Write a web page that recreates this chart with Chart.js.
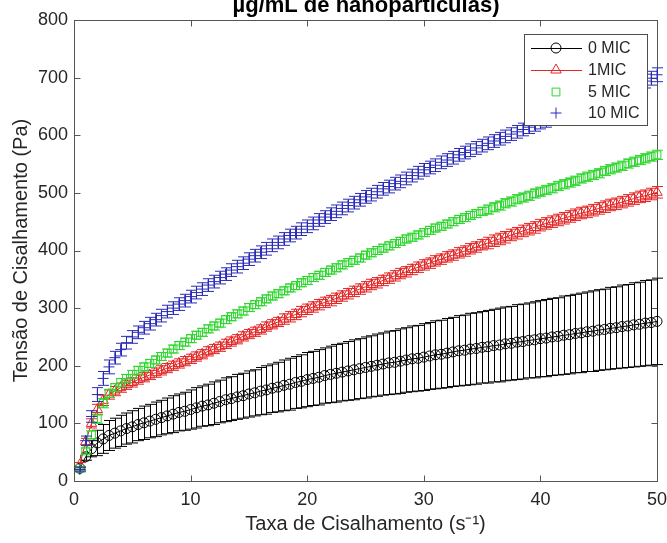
<!DOCTYPE html>
<html>
<head>
<meta charset="utf-8">
<script src="https://cdn.jsdelivr.net/npm/chart.js@4.4.0/dist/chart.umd.min.js"></script>
<style>
  html, body { margin: 0; padding: 0; background: #fff; }
</style>
</head>
<body>
<canvas id="chart" width="667" height="543"></canvas>
<script>
// taxa de cisalhamento (1/s)
const shearRate = [
  0.5, 1, 1.5, 2, 2.5, 3, 3.5, 4, 4.5, 5,
  5.5, 6, 6.5, 7, 7.5, 8, 8.5, 9, 9.5, 10,
  10.5, 11, 11.5, 12, 12.5, 13, 13.5, 14, 14.5, 15,
  15.5, 16, 16.5, 17, 17.5, 18, 18.5, 19, 19.5, 20,
  20.5, 21, 21.5, 22, 22.5, 23, 23.5, 24, 24.5, 25,
  25.5, 26, 26.5, 27, 27.5, 28, 28.5, 29, 29.5, 30,
  30.5, 31, 31.5, 32, 32.5, 33, 33.5, 34, 34.5, 35,
  35.5, 36, 36.5, 37, 37.5, 38, 38.5, 39, 39.5, 40,
  40.5, 41, 41.5, 42, 42.5, 43, 43.5, 44, 44.5, 45,
  45.5, 46, 46.5, 47, 47.5, 48, 48.5, 49, 49.5, 50
];

// tensao (Pa), media de cada grupo
const mic0 = [
  22, 42, 56, 66, 73, 79, 83, 87, 91, 94,
  98, 101, 104, 107, 110, 113, 116, 119, 121, 124,
  127, 130, 132, 135, 138, 141, 143, 146, 148, 151,
  153, 156, 158, 161, 163, 166, 168, 171, 173, 176,
  178, 180, 183, 185, 187, 189, 191, 193, 195, 197,
  199, 201, 203, 205, 206, 208, 210, 212, 213, 215,
  217, 219, 220, 222, 224, 226, 227, 229, 230, 232,
  233, 235, 236, 238, 239, 241, 242, 244, 245, 247,
  248, 250, 251, 253, 254, 256, 257, 259, 260, 262,
  263, 265, 266, 268, 269, 271, 272, 274, 275, 277
];
const mic1 = [
  28, 68, 100, 124, 140, 150, 156, 162, 167, 171,
  176, 180, 184, 188, 192, 196, 200, 204, 208, 212,
  216, 220, 225, 229, 233, 238, 242, 246, 251, 255,
  259, 263, 268, 272, 276, 281, 285, 289, 294, 298,
  302, 306, 310, 313, 317, 321, 325, 329, 333, 337,
  341, 344, 348, 352, 356, 360, 363, 367, 371, 375,
  378, 382, 385, 389, 392, 396, 399, 403, 406, 410,
  413, 417, 420, 423, 427, 430, 434, 437, 440, 444,
  447, 450, 453, 456, 459, 462, 465, 467, 470, 473,
  476, 479, 481, 484, 487, 490, 493, 495, 498, 501
];
const mic5 = [
  22, 52, 80, 108, 135, 152, 162, 171, 178, 185,
  192, 198, 204, 210, 216, 222, 229, 235, 241, 247,
  253, 258, 264, 269, 274, 280, 285, 290, 295, 301,
  306, 311, 316, 321, 325, 330, 335, 339, 344, 348,
  353, 357, 362, 366, 370, 375, 379, 383, 387, 392,
  396, 400, 404, 408, 412, 416, 420, 423, 427, 431,
  435, 439, 442, 446, 450, 454, 457, 461, 464, 468,
  471, 475, 478, 482, 485, 489, 492, 495, 499, 502,
  505, 508, 512, 515, 518, 521, 525, 528, 531, 534,
  538, 541, 544, 547, 551, 554, 557, 560, 563, 566
];
const mic10 = [
  20, 70, 112, 150, 178, 198, 214, 228, 240, 250,
  258, 266, 273, 280, 287, 294, 300, 307, 313, 320,
  327, 333, 340, 346, 353, 359, 366, 372, 378, 385,
  391, 397, 403, 409, 414, 420, 426, 431, 437, 442,
  447, 453, 458, 463, 468, 473, 478, 483, 488, 493,
  497, 502, 507, 511, 516, 520, 525, 530, 535, 540,
  544, 548, 553, 557, 561, 566, 570, 574, 578, 582,
  586, 590, 594, 598, 602, 606, 610, 614, 618, 622,
  626, 630, 634, 638, 642, 646, 649, 653, 657, 661,
  664, 668, 672, 676, 679, 683, 688, 694, 699, 705
];

// desvio padrao
const err0 = [
  3, 6, 14, 22, 25, 26, 26, 27, 27, 28,
  28, 29, 29, 30, 30, 31, 32, 32, 33, 34,
  35, 35, 36, 37, 37, 38, 38, 39, 39, 40,
  40, 41, 42, 42, 43, 44, 45, 45, 46, 47,
  47, 48, 48, 49, 50, 50, 51, 52, 52, 53,
  53, 54, 54, 55, 55, 56, 56, 57, 57, 58,
  58, 59, 59, 60, 60, 61, 61, 62, 62, 62,
  63, 63, 64, 64, 64, 65, 65, 65, 66, 66,
  67, 67, 67, 68, 68, 68, 69, 69, 70, 70,
  70, 71, 71, 72, 72, 73, 73, 74, 74, 75
];
const err1 = [
  4, 6, 8, 9, 9, 8, 8, 8, 8, 8,
  8, 8, 8, 8, 8, 8, 8, 8, 8, 8,
  8, 8, 8, 8, 8, 8, 8, 8, 8, 8,
  8, 8, 8, 8, 8, 9, 9, 9, 9, 9,
  9, 9, 9, 9, 9, 9, 9, 9, 9, 9,
  9, 9, 9, 9, 9, 9, 9, 9, 9, 9,
  9, 9, 9, 9, 9, 9, 9, 9, 9, 9,
  10, 10, 10, 10, 10, 10, 10, 10, 10, 10,
  10, 10, 10, 10, 10, 10, 10, 10, 10, 10,
  10, 10, 10, 10, 10, 10, 10, 10, 10, 10
];
const err5 = [
  3, 5, 7, 8, 8, 7, 7, 7, 7, 7,
  7, 7, 7, 7, 7, 7, 7, 7, 7, 7,
  7, 7, 7, 7, 7, 7, 7, 7, 7, 7,
  7, 7, 7, 7, 7, 7, 7, 7, 7, 7,
  7, 7, 7, 7, 7, 7, 7, 7, 7, 7,
  7, 7, 7, 7, 7, 7, 7, 7, 7, 7,
  7, 7, 7, 7, 7, 7, 7, 7, 7, 7,
  8, 8, 8, 8, 8, 8, 8, 8, 8, 8,
  8, 8, 8, 8, 8, 8, 8, 8, 8, 8,
  8, 8, 8, 8, 8, 8, 8, 8, 8, 8
];
const err10 = [
  4, 8, 10, 12, 12, 12, 11, 11, 11, 11,
  11, 11, 11, 11, 11, 11, 11, 11, 11, 11,
  11, 11, 11, 11, 11, 11, 11, 11, 11, 11,
  11, 11, 11, 11, 11, 11, 11, 11, 11, 11,
  11, 11, 11, 11, 11, 11, 11, 11, 11, 11,
  11, 11, 11, 11, 11, 11, 11, 11, 11, 11,
  11, 11, 11, 11, 11, 11, 11, 11, 11, 11,
  11, 11, 11, 11, 11, 11, 11, 11, 11, 11,
  12, 12, 12, 12, 12, 12, 12, 12, 12, 12,
  12, 12, 12, 12, 12, 12, 12, 12, 12, 12
];

const seriesNames = ["0 MIC", "1MIC", "5 MIC", "10 MIC"];
const xTicks = [0, 10, 20, 30, 40, 50];
const yTicks = [0, 100, 200, 300, 400, 500, 600, 700, 800];
const titleText = "µg/mL de nanopartículas)";

const FONT = "'Liberation Sans', Arial, Helvetica, sans-serif";
const AXIS_COLOR = "#555555";
const TEXT_COLOR = "#262626";

function toPoints(values) {
  return shearRate.map(function (x, i) { return { x: x, y: values[i] }; });
}

// barras de erro desenhadas antes de cada serie
const errorBars = {
  id: "errorBars",
  beforeDatasetDraw(chart, args) {
    const ds = chart.data.datasets[args.index];
    if (!ds.errors) return;
    const yScale = chart.scales.y;
    const ctx = chart.ctx;
    const cap = 5.5;
    ctx.save();
    ctx.strokeStyle = ds.borderColor;
    ctx.lineWidth = 1;
    ctx.beginPath();
    args.meta.data.forEach(function (pt, i) {
      const v = ds.data[i].y;
      const e = ds.errors[i];
      const top = yScale.getPixelForValue(v + e);
      const bot = yScale.getPixelForValue(v - e);
      const x = Math.round(pt.x) + 0.5;
      ctx.moveTo(x, top);
      ctx.lineTo(x, bot);
      ctx.moveTo(x - cap, top);
      ctx.lineTo(x + cap, top);
      ctx.moveTo(x - cap, bot);
      ctx.lineTo(x + cap, bot);
    });
    ctx.stroke();
    ctx.restore();
  }
};

// caixa dos eixos com marcas para dentro
const axesBox = {
  id: "axesBox",
  beforeDatasetsDraw(chart) {
    const ctx = chart.ctx;
    const a = chart.chartArea;
    const xs = chart.scales.x, ys = chart.scales.y;
    const l = Math.round(a.left) + 0.5, r = Math.round(a.right) + 0.5;
    const t = Math.round(a.top) + 0.5, b = Math.round(a.bottom) + 0.5;
    const len = 6;
    ctx.save();
    ctx.strokeStyle = AXIS_COLOR;
    ctx.lineWidth = 1;
    ctx.strokeRect(l, t, r - l, b - t);
    ctx.beginPath();
    xTicks.forEach(function (v) {
      const px = Math.round(xs.getPixelForValue(v)) + 0.5;
      ctx.moveTo(px, b); ctx.lineTo(px, b - len);
      ctx.moveTo(px, t); ctx.lineTo(px, t + len);
    });
    yTicks.forEach(function (v) {
      const py = Math.round(ys.getPixelForValue(v)) + 0.5;
      ctx.moveTo(l, py); ctx.lineTo(l + len, py);
      ctx.moveTo(r, py); ctx.lineTo(r - len, py);
    });
    ctx.stroke();
    ctx.restore();
  }
};

// legenda no estilo do MATLAB
const matlabLegend = {
  id: "matlabLegend",
  afterDatasetsDraw(chart) {
    const ctx = chart.ctx;
    const box = { x: 524.5, y: 34.5, w: 123, h: 91 };
    const rows = [48, 70, 92, 113];
    ctx.save();
    ctx.fillStyle = "#ffffff";
    ctx.fillRect(box.x, box.y, box.w, box.h);
    ctx.strokeStyle = "#4d4d4d";
    ctx.lineWidth = 1;
    ctx.strokeRect(box.x, box.y, box.w, box.h);
    ctx.font = "16px " + FONT;
    ctx.textBaseline = "middle";
    ctx.textAlign = "left";
    chart.data.datasets.forEach(function (ds, i) {
      const y = rows[i];
      if (ds.showLine) {
        ctx.strokeStyle = ds.borderColor;
        ctx.beginPath();
        ctx.moveTo(531, y + 0.5);
        ctx.lineTo(582, y + 0.5);
        ctx.stroke();
      }
      ctx.strokeStyle = ds.borderColor;
      ctx.fillStyle = "rgba(0,0,0,0)";
      Chart.helpers.drawPoint(ctx, {
        pointStyle: ds.pointStyle,
        radius: ds.pointRadius,
        rotation: 0,
        borderWidth: 1
      }, 556, y);
      ctx.fillStyle = TEXT_COLOR;
      ctx.fillText(seriesNames[i], 588, y + 1);
    });
    ctx.restore();
  }
};

// titulo cortado no topo
const clippedTitle = {
  id: "clippedTitle",
  afterDraw(chart) {
    const ctx = chart.ctx;
    ctx.save();
    ctx.font = "bold 22px " + FONT;
    ctx.fillStyle = "#000000";
    ctx.textAlign = "center";
    ctx.textBaseline = "alphabetic";
    ctx.fillText(titleText, 366, 12);
    ctx.restore();
  }
};

const colors = ["#000000", "#e32626", "#2fd62f", "#2a2ab8"];
const styles = ["circle", "triangle", "rect", "cross"];
const radii = [5, 6, 5.5, 5.5];
const values = [mic0, mic1, mic5, mic10];
const errors = [err0, err1, err5, err10];

const datasets = values.map(function (v, i) {
  return {
    label: seriesNames[i],
    data: toPoints(v),
    errors: errors[i],
    showLine: i < 2,
    borderColor: colors[i],
    borderWidth: 1,
    pointStyle: styles[i],
    pointRadius: radii[i],
    pointBorderColor: colors[i],
    pointBackgroundColor: "rgba(0,0,0,0)",
    pointBorderWidth: 1,
    tension: 0,
    clip: false,
    order: 4 - i
  };
});

new Chart(document.getElementById("chart").getContext("2d"), {
  type: "scatter",
  data: { datasets: datasets },
  options: {
    responsive: false,
    animation: false,
    devicePixelRatio: 1,
    layout: { padding: { top: 20, right: 10, left: 0, bottom: 0 } },
    plugins: {
      legend: { display: false },
      tooltip: { enabled: false }
    },
    scales: {
      x: {
        type: "linear",
        min: 0,
        max: 50,
        grid: { display: false, drawTicks: false },
        border: { display: false },
        ticks: {
          stepSize: 10,
          padding: 8,
          color: TEXT_COLOR,
          font: { family: FONT, size: 18 },
          maxRotation: 0
        },
        title: {
          display: true,
          text: "Taxa de Cisalhamento (s⁻¹)",
          color: TEXT_COLOR,
          font: { family: FONT, size: 20 },
          padding: { top: 0, bottom: 7 }
        },
        afterFit: function (s) {
          s.height = 62;
          s.paddingLeft = 0;
          s.paddingRight = 0;
        }
      },
      y: {
        type: "linear",
        min: 0,
        max: 800,
        grid: { display: false, drawTicks: false },
        border: { display: false },
        ticks: {
          stepSize: 100,
          padding: 6,
          color: TEXT_COLOR,
          font: { family: FONT, size: 18 }
        },
        title: {
          display: true,
          text: "Tensão de Cisalhamento (Pa)",
          color: TEXT_COLOR,
          font: { family: FONT, size: 20 },
          padding: { top: 9, bottom: 0 }
        },
        afterFit: function (s) {
          s.width = 74;
          s.paddingTop = 0;
          s.paddingBottom = 0;
        }
      }
    }
  },
  plugins: [axesBox, errorBars, matlabLegend, clippedTitle]
});
</script>
</body>
</html>
